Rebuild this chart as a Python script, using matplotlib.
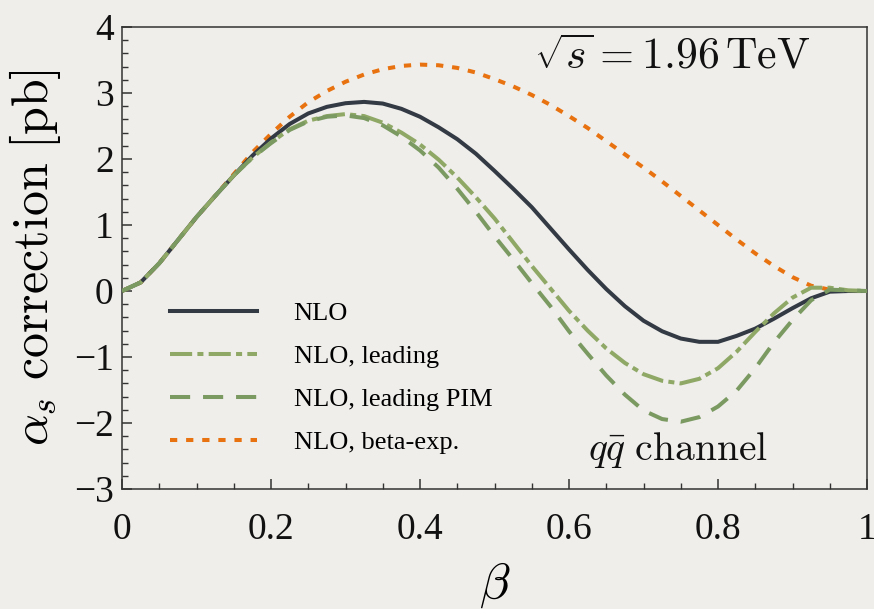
import numpy as np
import matplotlib
matplotlib.use("Agg")
import matplotlib.pyplot as plt
from matplotlib.ticker import MultipleLocator

plt.rcParams['font.family'] = ['Liberation Serif', 'DejaVu Serif']
plt.rcParams['mathtext.fontset'] = 'cm'

# beta grid and the alpha_s corrections (pb) for the q-qbar channel
beta = np.linspace(0.0, 1.0, 41)

nlo = [0.00, 0.13, 0.42, 0.77, 1.12, 1.44, 1.75, 2.05, 2.31, 2.53,
       2.69, 2.79, 2.845, 2.865, 2.84, 2.76, 2.64, 2.48, 2.30, 2.08,
       1.82, 1.55, 1.27, 0.95, 0.63, 0.32, 0.03, -0.23, -0.45, -0.61,
       -0.72, -0.77, -0.77, -0.68, -0.57, -0.42, -0.26, -0.11, -0.01, 0.00,
       0.00]

nlo_leading = [0.00, 0.13, 0.42, 0.77, 1.12, 1.44, 1.75, 2.02, 2.25, 2.45,
               2.58, 2.65, 2.68, 2.65, 2.55, 2.40, 2.22, 1.99, 1.72, 1.42,
               1.10, 0.74, 0.38, 0.04, -0.30, -0.60, -0.87, -1.09, -1.26, -1.36,
               -1.40, -1.33, -1.17, -0.92, -0.62, -0.34, -0.10, 0.05, 0.05, 0.01,
               0.00]

nlo_leading_pim = [0.00, 0.13, 0.42, 0.77, 1.12, 1.44, 1.75, 2.02, 2.24, 2.44,
                   2.57, 2.64, 2.66, 2.62, 2.51, 2.34, 2.13, 1.87, 1.55, 1.20,
                   0.83, 0.48, 0.12, -0.23, -0.61, -0.95, -1.28, -1.57, -1.81, -1.94,
                   -1.98, -1.91, -1.75, -1.51, -1.17, -0.78, -0.44, -0.14, 0.02, 0.01,
                   0.00]

nlo_beta_exp = [0.00, 0.13, 0.42, 0.77, 1.12, 1.44, 1.77, 2.10, 2.38, 2.64,
                2.86, 3.03, 3.17, 3.28, 3.36, 3.41, 3.43, 3.42, 3.38, 3.31,
                3.21, 3.10, 2.97, 2.82, 2.65, 2.47, 2.27, 2.07, 1.87, 1.66,
                1.44, 1.22, 1.00, 0.78, 0.57, 0.38, 0.21, 0.08, 0.02, 0.00,
                0.00]

bg = '#efeeeb'
fig = plt.figure(figsize=(8.74, 6.09), dpi=100, facecolor=bg)
ax = fig.add_axes([0.1396, 0.197, 0.8524, 0.7587])
ax.set_facecolor(bg)

lw = 2.9
ax.plot(beta, nlo_beta_exp, color='#e8720f', lw=lw, linestyle=(0, (1.8, 2.2)),
        label='NLO, beta-exp.', zorder=2)
ax.plot(beta, nlo, color='#333a44', lw=lw, label='NLO', zorder=3)
ax.plot(beta, nlo_leading, color='#8fa866', lw=lw,
        linestyle=(0, (5.5, 1.3, 1.5, 1.3)), label='NLO, leading', zorder=4)
ax.plot(beta, nlo_leading_pim, color='#7b9a62', lw=lw,
        linestyle=(0, (5.0, 3.2)), label='NLO, leading PIM', zorder=4)

ax.set_xlim(0, 1)
ax.set_ylim(-3, 4)
ax.xaxis.set_minor_locator(MultipleLocator(0.05))
ax.yaxis.set_major_locator(MultipleLocator(1))
ax.yaxis.set_minor_locator(MultipleLocator(0.2))
ax.set_xticks([0, 0.2, 0.4, 0.6, 0.8, 1.0])
ax.set_xticklabels(['0', '0.2', '0.4', '0.6', '0.8', '1'])
ax.tick_params(which='both', direction='in', top=False, right=False,
               colors='#333333', labelcolor='#111111', labelsize=27)
ax.tick_params(which='major', length=7, width=1.1)
ax.tick_params(which='minor', length=4, width=1.0)
ax.tick_params(axis='x', pad=17)
ax.tick_params(axis='y', pad=6)
for s in ax.spines.values():
    s.set_color('#333333')
    s.set_linewidth(1.1)

ax.set_xlabel(r'$\beta$', fontsize=36, labelpad=10)
ax.set_ylabel(r'$\alpha_s\ \mathrm{correction\ [pb]}$', fontsize=36, labelpad=8)

ax.text(0.553, 0.935, r'$\sqrt{s}=1.96\,\mathrm{TeV}$', transform=ax.transAxes,
        fontsize=31.5, ha='left', va='center', color='#111111')
ax.text(0.625, 0.085, r'$q\bar{q}\ \mathrm{channel}$', transform=ax.transAxes,
        fontsize=28.5, ha='left', va='center', color='#111111')

handles, labels = ax.get_legend_handles_labels()
order = [1, 2, 3, 0]
leg = ax.legend([handles[i] for i in order], [labels[i] for i in order],
                loc='upper left', bbox_to_anchor=(0.064, 0.405), frameon=False,
                fontsize=19, handlelength=3.3, handletextpad=1.4,
                labelspacing=0.74, borderpad=0, borderaxespad=0)

fig.savefig('out.png', dpi=100, facecolor=bg)
